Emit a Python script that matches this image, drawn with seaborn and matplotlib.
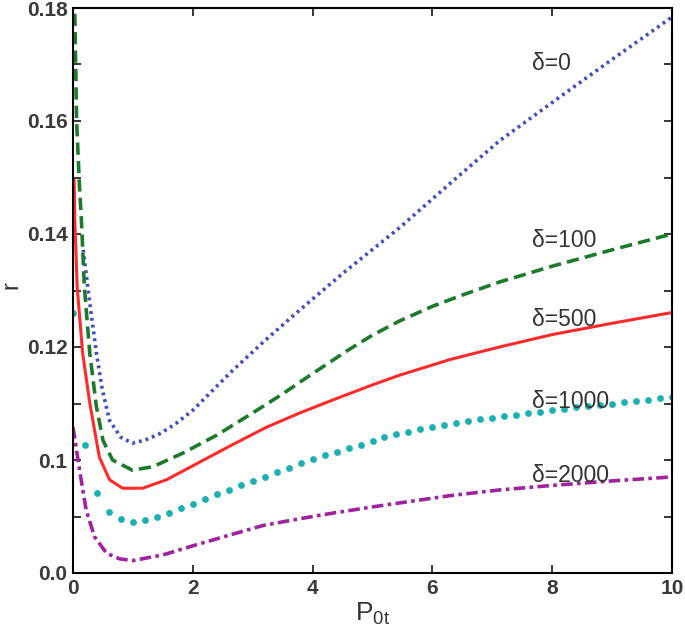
"""
Recreate the r versus P_0t plot for several delta values.
"""
import matplotlib
matplotlib.use("Agg")
from matplotlib import pyplot
import seaborn
import pandas as pd

# delta = 0 (blue, dotted)
x_d0 = [0.17, 0.28, 0.39, 0.49, 0.61, 0.80, 0.99, 1.2, 1.44, 1.7, 2.0, 2.66,
        3.2, 3.78, 4.5, 5.45, 6.3, 7.12, 8.12, 9.0, 10.0]
r_d0 = [0.1372, 0.1278, 0.1190, 0.1124, 0.1070, 0.1040, 0.1030, 0.1035, 0.1046,
        0.1063, 0.1088, 0.1158, 0.1211, 0.1265, 0.1330, 0.1411, 0.1490, 0.1565,
        0.1642, 0.1709, 0.1784]

# delta = 100 (green, dashed)
x_d100 = [0.03, 0.06, 0.11, 0.14, 0.19, 0.28, 0.39, 0.50, 0.66, 0.99, 1.33, 1.83,
          2.4, 2.95, 3.5, 4.0, 4.6, 5.0, 5.45, 6.0, 6.5, 7.12, 8.0, 9.0, 10.0]
r_d100 = [0.1790, 0.1600, 0.1480, 0.1425, 0.1306, 0.1189, 0.1095, 0.1035, 0.1000,
          0.0982, 0.0988, 0.1012, 0.1044, 0.1080, 0.1117, 0.1153, 0.1195, 0.1221,
          0.1246, 0.1272, 0.1292, 0.1315, 0.1343, 0.1372, 0.1400]

# delta = 500 (red, solid)
x_d500 = [0.02, 0.03, 0.07, 0.16, 0.28, 0.44, 0.61, 0.83, 1.16, 1.56, 2.11, 2.66,
          3.23, 3.78, 4.33, 5.0, 5.45, 6.3, 7.12, 8.0, 9.0, 10.0]
r_d500 = [0.1496, 0.1425, 0.1306, 0.1190, 0.1101, 0.1005, 0.0965, 0.0950, 0.0950,
          0.0965, 0.0996, 0.1027, 0.1058, 0.1083, 0.1106, 0.1133, 0.1150, 0.1178,
          0.1200, 0.1222, 0.1242, 0.1261]

# delta = 1000 (cyan, markers every 0.2)
x_d1000 = [i * 0.2 for i in range(51)]
r_d1000 = [0.1260, 0.1026, 0.0942, 0.0908, 0.0895, 0.0890, 0.0894, 0.0899, 0.0907,
           0.0915, 0.0923, 0.0931, 0.0939, 0.0947, 0.0955, 0.0962, 0.0970, 0.0978,
           0.0986, 0.0994, 0.1001, 0.1008, 0.1014, 0.1021, 0.1027, 0.1034, 0.1040,
           0.1046, 0.1050, 0.1054, 0.1058, 0.1062, 0.1066, 0.1069, 0.1072, 0.1075,
           0.1078, 0.1080, 0.1083, 0.1085, 0.1088, 0.1090, 0.1093, 0.1095, 0.1098,
           0.1100, 0.1102, 0.1105, 0.1107, 0.1110, 0.1112]

# delta = 2000 (magenta, dash-dot)
x_d2000 = [0.0, 0.11, 0.22, 0.36, 0.56, 0.78, 1.0, 1.5, 2.06, 2.61, 3.17, 3.73,
           4.28, 5.0, 5.45, 6.3, 7.12, 8.0, 9.0, 10.0]
r_d2000 = [0.1058, 0.0982, 0.0911, 0.0864, 0.0835, 0.0825, 0.0822, 0.0832, 0.0850,
           0.0867, 0.0884, 0.0895, 0.0905, 0.0917, 0.0924, 0.0937, 0.0947, 0.0955,
           0.0963, 0.0970]

label_texts = ["δ=0", "δ=100", "δ=500", "δ=1000", "δ=2000"]
label_x = [7.67, 7.67, 7.67, 7.67, 7.67]
label_y = [0.1701, 0.1389, 0.1248, 0.1103, 0.0972]

yticks = [0.08, 0.09, 0.10, 0.11, 0.12, 0.13, 0.14, 0.15, 0.16, 0.17, 0.18]
yticklabels = ["0.0", "", "0.1", "", "0.12", "", "0.14", "", "0.16", "", "0.18"]
xticks = [0, 2, 4, 6, 8, 10]


def main():
    seaborn.set_style("ticks")
    pyplot.rcParams["font.family"] = ["Liberation Sans", "DejaVu Sans"]
    pyplot.rcParams["mathtext.fontset"] = "custom"
    pyplot.rcParams["mathtext.rm"] = "Liberation Sans"
    pyplot.rcParams["mathtext.it"] = "Liberation Sans"

    fig = pyplot.figure(figsize=(6.85, 6.44), dpi=100)
    ax = fig.add_axes([73 / 685, 1 - 573 / 644, 599 / 685, 565 / 644])

    seaborn.lineplot(x=x_d0, y=r_d0, ax=ax, color="#3f4fbf", lw=2.6,
                     linestyle=(0, (0.8, 1.1)), sort=False)
    seaborn.lineplot(x=x_d100, y=r_d100, ax=ax, color="#1d7a2c", lw=2.6,
                     linestyle=(0, (3.4, 1.7)), sort=False)
    seaborn.lineplot(x=x_d500, y=r_d500, ax=ax, color="#ff2a2a", lw=2.2,
                     linestyle="-", sort=False)
    seaborn.scatterplot(x=x_d1000, y=r_d1000, ax=ax, color="#1cb0b0", s=24,
                        linewidth=0)
    seaborn.lineplot(x=x_d2000, y=r_d2000, ax=ax, color="#a0229f", lw=2.6,
                     linestyle=(0, (3.2, 1.2, 1.0, 1.2)), sort=False)

    for txt, tx, ty in zip(label_texts, label_x, label_y):
        ax.text(tx, ty, txt, fontsize=16.5, color="#333333", va="center", ha="left")

    ax.set_xlim(0, 10)
    ax.set_ylim(0.08, 0.18)
    ax.set_xticks(xticks)
    ax.set_xticklabels([str(t) for t in xticks])
    ax.set_yticks(yticks)
    ax.set_yticklabels(yticklabels)
    ax.tick_params(direction="in", length=6, width=1.3, top=True, right=True,
                   labelsize=15, labelcolor="#3a3a3a", pad=4)
    for lab in ax.get_xticklabels() + ax.get_yticklabels():
        lab.set_fontweight("bold")
    for sp in ax.spines.values():
        sp.set_color("black")
        sp.set_linewidth(1.5)

    ax.set_xlabel(r"$\mathregular{P_{0t}}$", fontsize=19, color="#333333", labelpad=2)
    ax.set_ylabel("r", fontsize=17, color="#333333")
    # place the rotated "r" so it sits fully inside the figure
    ax.yaxis.set_label_coords(-0.085, 0.51)

    fig.savefig("out.png", dpi=100)


if __name__ == "__main__":
    main()
